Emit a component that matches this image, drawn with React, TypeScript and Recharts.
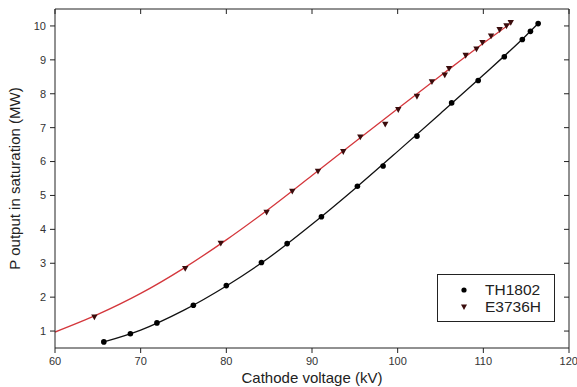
import React from 'react';
import { ComposedChart, Line, Scatter, XAxis, YAxis } from 'recharts';

const xTicks = [60, 70, 80, 90, 100, 110, 120];
const yTicks = [1, 2, 3, 4, 5, 6, 7, 8, 9, 10];

const th1802Points = [
  { x: 65.7, y: 0.68 }, { x: 68.8, y: 0.92 }, { x: 71.9, y: 1.24 }, { x: 76.15, y: 1.76 },
  { x: 80.0, y: 2.34 }, { x: 84.1, y: 3.02 }, { x: 87.1, y: 3.58 }, { x: 91.1, y: 4.37 },
  { x: 95.3, y: 5.27 }, { x: 98.3, y: 5.87 }, { x: 102.25, y: 6.75 }, { x: 106.3, y: 7.73 },
  { x: 109.4, y: 8.39 }, { x: 112.45, y: 9.09 }, { x: 114.55, y: 9.6 }, { x: 115.5, y: 9.84 },
  { x: 116.4, y: 10.07 },
];

const e3736hPoints = [
  { x: 64.6, y: 1.41 }, { x: 75.2, y: 2.84 }, { x: 79.35, y: 3.59 }, { x: 84.7, y: 4.5 },
  { x: 87.7, y: 5.12 }, { x: 90.7, y: 5.71 }, { x: 93.65, y: 6.29 }, { x: 95.64, y: 6.72 },
  { x: 98.55, y: 7.1 }, { x: 100.07, y: 7.53 }, { x: 102.25, y: 7.92 }, { x: 104.0, y: 8.35 },
  { x: 105.5, y: 8.55 }, { x: 106.0, y: 8.74 }, { x: 107.94, y: 9.13 }, { x: 109.2, y: 9.32 },
  { x: 109.9, y: 9.51 }, { x: 110.9, y: 9.7 }, { x: 111.9, y: 9.89 }, { x: 112.7, y: 10.0 },
  { x: 113.2, y: 10.1 },
];

const th1802Fit = [
  { x: 65.7, y: 0.68 }, { x: 70, y: 1.03 }, { x: 75, y: 1.61 }, { x: 80, y: 2.33 },
  { x: 85, y: 3.17 }, { x: 90, y: 4.15 }, { x: 95, y: 5.2 }, { x: 100, y: 6.3 },
  { x: 105, y: 7.42 }, { x: 110, y: 8.55 }, { x: 115, y: 9.72 }, { x: 116.4, y: 10.07 },
];

const e3736hFit = [
  { x: 60, y: 0.97 }, { x: 65, y: 1.49 }, { x: 70, y: 2.11 }, { x: 75, y: 2.85 },
  { x: 80, y: 3.69 }, { x: 85, y: 4.61 }, { x: 90, y: 5.59 }, { x: 95, y: 6.58 },
  { x: 100, y: 7.56 }, { x: 105, y: 8.53 }, { x: 110, y: 9.49 }, { x: 113.3, y: 10.1 },
];

const FONT = '"Liberation Sans", Arial, sans-serif';
const AXIS = '#222';
const RED = '#d4373c';
const TRI = '#3a0c0c';

const Dot = (p: any) => <circle cx={p.cx} cy={p.cy} r={2.8} fill="#000" />;
const Tri = (p: any) => (
  <path d={`M${p.cx - 3.2},${p.cy - 2.6} L${p.cx + 3.2},${p.cy - 2.6} L${p.cx},${p.cy + 3.2} Z`} fill={TRI} />
);

const tickStyle = { fontSize: 11, fill: '#333', fontFamily: FONT };

export default function App() {
  return (
    <div style={{ position: 'absolute', left: 0, top: 0, width: 577, height: 387, background: '#fff', fontFamily: FONT }}>
      <ComposedChart width={577} height={387} margin={{ top: 9, right: 8, bottom: 0, left: 0 }}>
        <XAxis
          dataKey="x"
          type="number"
          domain={[60, 120]}
          ticks={xTicks}
          allowDataOverflow
          tick={tickStyle}
          tickSize={5}
          tickMargin={4}
          height={39}
          axisLine={{ stroke: AXIS }}
          tickLine={{ stroke: AXIS }}
          label={{ value: 'Cathode voltage (kV)', position: 'insideBottom', offset: 4, style: { fontSize: 15, fill: '#222', fontFamily: FONT } }}
        />
        <XAxis
          xAxisId="top"
          orientation="top"
          dataKey="x"
          type="number"
          domain={[60, 120]}
          ticks={xTicks}
          allowDataOverflow
          mirror
          tickSize={5}
          tickFormatter={() => ''}
          axisLine={{ stroke: AXIS }}
          tickLine={{ stroke: AXIS }}
        />
        <YAxis
          type="number"
          domain={[0.5, 10.5]}
          ticks={yTicks}
          allowDataOverflow
          width={55}
          tick={tickStyle}
          tickSize={5}
          tickMargin={4}
          axisLine={{ stroke: AXIS }}
          tickLine={{ stroke: AXIS }}
          label={{ value: 'P output in saturation (MW)', angle: -90, position: 'insideLeft', offset: 15, style: { fontSize: 15, fill: '#222', fontFamily: FONT, textAnchor: 'middle' } }}
        />
        <YAxis
          yAxisId="right"
          orientation="right"
          type="number"
          domain={[0.5, 10.5]}
          ticks={yTicks}
          allowDataOverflow
          mirror
          tickSize={5}
          tickFormatter={() => ''}
          axisLine={{ stroke: AXIS }}
          tickLine={{ stroke: AXIS }}
        />
        <Line data={e3736hFit} dataKey="y" type="monotone" stroke={RED} strokeWidth={1.3} dot={false} isAnimationActive={false} />
        <Line data={th1802Fit} dataKey="y" type="monotone" stroke="#111" strokeWidth={1.3} dot={false} isAnimationActive={false} />
        <Scatter data={e3736hPoints} dataKey="y" shape={Tri} isAnimationActive={false} />
        <Scatter data={th1802Points} dataKey="y" shape={Dot} isAnimationActive={false} />
      </ComposedChart>
      <div
        style={{
          position: 'absolute', left: 437, top: 274, width: 118, height: 48,
          border: '1px solid #222', boxSizing: 'border-box', fontSize: 15.5, color: '#222',
        }}
      >
        <div style={{ position: 'absolute', left: 21, top: 6, display: 'flex', alignItems: 'center' }}>
          <svg width={10} height={10}><circle cx={5} cy={5} r={2.6} fill="#000" /></svg>
          <span style={{ marginLeft: 16, lineHeight: '17px' }}>TH1802</span>
        </div>
        <div style={{ position: 'absolute', left: 21, top: 23, display: 'flex', alignItems: 'center' }}>
          <svg width={10} height={10}><path d="M2,2.5 L8,2.5 L5,8 Z" fill={TRI} /></svg>
          <span style={{ marginLeft: 16, lineHeight: '17px' }}>E3736H</span>
        </div>
      </div>
    </div>
  );
}
